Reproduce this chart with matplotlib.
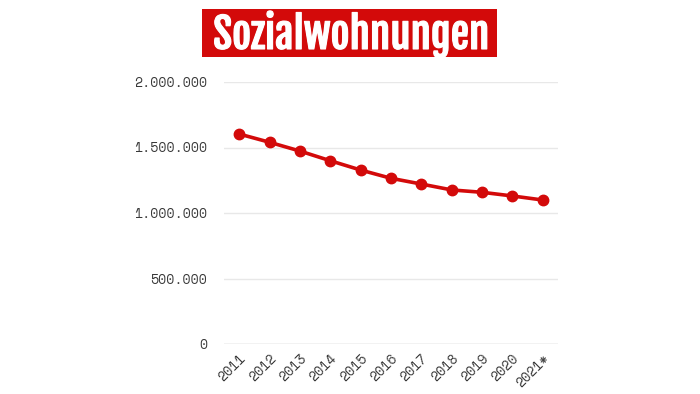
import matplotlib
matplotlib.use("Agg")
import matplotlib.pyplot as plt
from matplotlib.ticker import FuncFormatter
from matplotlib.patches import Rectangle
from matplotlib import font_manager as fm
import matplotlib.patheffects as pe

years = ["2011", "2012", "2013", "2014", "2015", "2016", "2017", "2018", "2019", "2020", "2021*"]
values = [1603000, 1540000, 1473000, 1399000, 1328000, 1265000, 1221000, 1176000, 1158000, 1130000, 1099000]
yticks = [0, 500000, 1000000, 1500000, 2000000]
title = "Sozialwohnungen"

def wnum(w):
    if isinstance(w, int):
        return w
    return {"bold": 700, "semibold": 600, "demibold": 600, "heavy": 800, "black": 900,
            "extra bold": 800}.get(str(w).lower(), 400)

bold_names = {f.name for f in fm.fontManager.ttflist if wnum(f.weight) >= 600}
names = {f.name for f in fm.fontManager.ttflist}
title_family, title_weight, stroke = "DejaVu Sans", "bold", 0.8
for cand, need_bold in [("Oswald", True), ("Fjalla One", False), ("Barlow Condensed", True),
                        ("Roboto Condensed", True)]:
    if (need_bold and cand in bold_names) or (not need_bold and cand in names):
        title_family = cand
        break
else:
    if "Oswald" in names:
        title_family, stroke = "Oswald", 1.6

tick_family = "Space Mono" if "Space Mono" in names else "DejaVu Sans Mono"

red = "#d30a0a"
fig = plt.figure(figsize=(7, 3.94), dpi=100)
ax = fig.add_axes([224/700, 1-344/394, (558-224)/700, (344-82)/394])
x = list(range(len(years)))
ax.plot(x, values, color=red, lw=2.6, marker="o", ms=7.5, zorder=3, clip_on=False)
ax.set_xlim(-0.5, 10.5)
ax.set_ylim(0, 2000000)
ax.set_yticks(yticks)
ax.yaxis.set_major_formatter(FuncFormatter(lambda v, p: f"{int(v):,}".replace(",", ".")))
ax.set_xticks(x)
ax.set_xticklabels(years, rotation=45, ha="right", rotation_mode="anchor")
for s in ax.spines.values():
    s.set_visible(False)
ax.grid(axis="y", color="#e8e8e8", lw=1)
ax.axhline(0, color="#cfcfcf", lw=1, zorder=1)
ax.tick_params(length=0)
ax.tick_params(axis="y", pad=12)
ax.tick_params(axis="x", pad=6)
for lab in ax.get_yticklabels() + ax.get_xticklabels():
    lab.set_family(tick_family)
    lab.set_fontsize(9.5)
    lab.set_color("#383838")

fig.patches.append(Rectangle((202/700, 1-57/394), 295/700, 48/394, transform=fig.transFigure,
                             fc=red, ec="none", zorder=0))
t = fig.text(351/700, 1-49/394, title, ha="center", va="baseline", color="white",
             fontsize=30, fontweight=title_weight, family=title_family, zorder=2)
if stroke:
    t.set_path_effects([pe.withStroke(linewidth=stroke, foreground="white")])
fig.canvas.draw()
bb = t.get_window_extent()
t.set_fontsize(30 * 276 / bb.width)
fig.savefig("out.png", dpi=100, facecolor="white")
